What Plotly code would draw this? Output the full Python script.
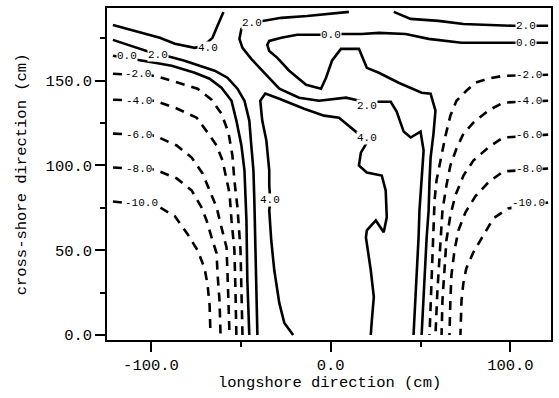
import plotly.graph_objects as go

# ---------------- contour lines (longshore x, cross-shore y, in cm) ----------------
# level 4.0, upper-left corner
c4a_x = [-121.2, -111.7, -103.4, -95.1, -86.7, -81.3, -75.7, -70.7, -65.8, -63.0, -59.7]
c4a_y = [182.9, 180.0, 177.6, 175.3, 171.8, 170.6, 169.4, 170.6, 175.3, 182.4, 190.6]
# level 4.0, central region
c4b_x = [-20.9, -25.8, -28.6, -31.4, -33.1, -34.2, -33.6, -34.2, -34.2, -35.8, -38.1, -39.2,
         -36.4, -28.6, -14.8, -3.7, 4.6, 10.1, 14.6, 20.1, 20.1, 16.8, 15.7, 20.1, 28.4, 30.6,
         31.2, 29.5, 25.1, 20.1, 19.6, 22.3, 24.0, 22.9, 22.3]
c4b_y = [0.0, 7.1, 18.8, 38.2, 55.9, 73.5, 79.4, 88.2, 97.1, 114.7, 126.5, 138.2,
         142.4, 139.4, 133.5, 129.4, 128.2, 123.5, 119.4, 116.5, 113.5, 107.6, 100.0, 95.9, 94.1, 85.3,
         69.4, 60.6, 67.6, 61.8, 57.6, 38.2, 22.4, 8.8, 0.0]
# level 2.0, left
c2a_x = [-121.2, -114.5, -103.4, -96.2, -89.6, -81.3, -73.0, -64.6, -57.5, -51.9, -48.0, -45.3,
         -44.2, -43.0, -42.5, -41.9, -41.4, -40.8]
c2a_y = [174.1, 171.8, 167.6, 165.3, 164.1, 161.8, 158.8, 155.9, 151.8, 145.3, 138.2, 126.5,
         111.8, 97.1, 79.4, 50.0, 20.6, 0.0]
# level 2.0, top-middle down to the right column
c2b_x = [10.1, -0.9, -13.1, -27.5, -38.6, -44.2, -49.7, -50.8, -49.1, -44.2, -38.1, -28.6, -17.6,
         -6.5, 8.5, 18.5, 26.8, 33.4, 36.7, 40.6, 44.5, 50.0, 51.7, 50.6, 49.4, 48.9, 47.3, 46.1]
c2b_y = [190.6, 189.4, 188.2, 187.1, 185.3, 184.1, 180.6, 174.7, 169.4, 162.9, 155.9, 145.3, 140.0,
         138.2, 140.0, 137.6, 137.6, 137.6, 131.8, 120.0, 116.5, 120.0, 108.8, 94.1, 73.5, 57.6, 26.5, 0.0]
# level 2.0, top-right
c2c_x = [35.1, 44.5, 60.0, 73.9, 101.6, 121.0]
c2c_y = [190.6, 186.5, 185.3, 183.5, 182.4, 182.4]
# level 0.0, left
c0a_x = [-121.2, -107.3, -97.9, -88.5, -75.7, -67.4, -60.8, -55.2, -52.5, -49.7, -48.0, -46.9, -46.4, -45.3]
c0a_y = [164.7, 162.4, 160.6, 158.8, 154.7, 151.2, 145.9, 138.2, 126.5, 111.8, 97.1, 67.6, 32.4, 0.0]
# level 0.0, right edge -> top -> loop -> right column
c0b_x = [121.0, 100.4, 72.8, 54.5, 41.7, 26.8, 17.3, 5.7, 0.2, -7.6, -18.7, -27.5, -34.2, -35.3,
         -34.2, -29.7, -23.1, -13.7, -5.4, -2.6, 0.7, 5.7, 15.7, 20.1, 26.8, 37.8, 50.6, 55.6,
         58.3, 57.2, 55.6, 55.0, 54.5, 53.4, 52.2, 51.1, 50.6]
c0b_y = [172.4, 172.4, 172.4, 174.7, 177.6, 178.2, 177.6, 177.6, 177.1, 177.1, 177.1, 175.3, 173.5, 171.2,
         167.6, 163.5, 155.9, 147.6, 145.3, 151.8, 161.8, 168.8, 168.8, 157.6, 154.7, 148.8, 142.9, 142.4,
         132.4, 118.8, 104.7, 91.2, 73.5, 57.6, 32.4, 14.7, 0.0]
# negative levels, left side
cm2a_x = [-121.2, -97.9, -86.7, -74.1, -66.3, -60.8, -56.9, -54.7, -53.6, -51.9, -50.2, -49.7, -49.1]
cm2a_y = [154.1, 152.9, 149.4, 145.3, 138.8, 130.6, 119.4, 105.9, 91.2, 75.3, 50.0, 26.5, 0.0]
cm4a_x = [-121.2, -97.9, -86.7, -74.6, -68.5, -63.5, -60.2, -58.0, -56.3, -55.2, -53.6, -53.0, -52.5]
cm4a_y = [138.8, 138.2, 134.1, 128.2, 119.4, 111.8, 102.9, 92.9, 83.5, 67.6, 50.0, 26.5, 0.0]
cm6a_x = [-121.2, -97.9, -85.7, -77.4, -71.3, -67.4, -63.5, -60.8, -58.0, -57.5, -56.9, -56.3]
cm6a_y = [118.8, 117.6, 111.8, 104.7, 95.3, 85.3, 75.3, 63.5, 51.8, 38.2, 20.6, 0.0]
cm8a_x = [-121.2, -97.9, -85.7, -77.4, -71.9, -69.1, -66.3, -63.5, -63.0, -61.9, -61.3]
cm8a_y = [98.8, 97.6, 92.4, 85.3, 75.3, 67.6, 57.6, 48.2, 36.5, 20.6, 0.0]
cm10a_x = [-121.2, -95.1, -86.7, -79.6, -74.1, -70.2, -68.5, -67.4, -66.9]
cm10a_y = [78.8, 75.3, 70.0, 59.4, 50.0, 39.4, 29.4, 17.6, 0.0]
# negative levels, right side
cm2b_x = [121.0, 96.0, 87.7, 80.5, 75.5, 70.0, 66.6, 63.9, 61.1, 58.9, 57.8, 56.7, 55.6, 55.0]
cm2b_y = [153.5, 152.9, 151.2, 148.8, 144.1, 138.2, 129.4, 117.6, 102.9, 91.2, 79.4, 50.0, 20.6, 0.0]
cm4b_x = [121.0, 96.0, 87.7, 79.4, 73.9, 70.0, 66.6, 64.4, 62.2, 60.6, 59.4, 58.3]
cm4b_y = [138.2, 137.1, 132.4, 125.3, 118.8, 110.0, 100.0, 88.2, 73.5, 50.0, 26.5, 0.0]
cm6b_x = [121.0, 96.0, 87.7, 79.4, 73.9, 69.4, 66.6, 64.4, 63.3, 62.2, 61.7]
cm6b_y = [118.2, 116.5, 110.6, 102.9, 94.1, 82.4, 70.6, 55.9, 38.2, 20.6, 0.0]
cm8b_x = [121.0, 96.0, 87.7, 80.5, 75.0, 71.1, 68.9, 67.2, 66.6, 66.1]
cm8b_y = [98.2, 96.5, 90.0, 81.8, 72.4, 61.8, 50.0, 35.3, 20.6, 0.0]
cm10b_x = [121.0, 98.8, 90.5, 84.9, 79.4, 75.5, 73.9, 72.8, 72.2]
cm10b_y = [78.2, 74.7, 68.8, 58.8, 48.8, 39.4, 31.2, 20.6, 0.0]

# ---------------- contour labels ----------------
label_text = ["4.0", "2.0", "0.0", "-2.0", "-4.0", "-6.0", "-8.0", "-10.0",
              "2.0", "0.0", "2.0", "4.0", "4.0",
              "2.0", "0.0", "-2.0", "-4.0", "-6.0", "-8.0", "-10.0"]
label_x = [-68.5, -96.2, -113.4, -107.3, -106.8, -106.8, -106.8, -105.1,
           -44.0, 0.2, 20.1, 20.1, -33.6,
           108.8, 108.8, 110.4, 110.4, 110.4, 110.4, 109.8]
label_y = [169.4, 165.3, 164.7, 153.8, 138.2, 118.2, 98.2, 77.6,
           184.1, 177.1, 135.0, 116.5, 79.4,
           182.4, 172.4, 153.5, 138.2, 118.2, 98.2, 77.6]

# ---------------- axes ----------------
x_tickvals = [-100, 0, 100]
x_ticktext = ["-100.0", "0.0", "100.0"]
x_minor = [-50, 50]
y_tickvals = [0, 50, 100, 150]
y_ticktext = ["0.0", "50.0", "100.0", "150.0"]
y_minor = [25, 75, 125, 175]
x_title = "longshore direction (cm)"
y_title = "cross-shore direction (cm)"

pieces = [
    (c4a_x, c4a_y, 4.0), (c4b_x, c4b_y, 4.0),
    (c2a_x, c2a_y, 2.0), (c2b_x, c2b_y, 2.0), (c2c_x, c2c_y, 2.0),
    (c0a_x, c0a_y, 0.0), (c0b_x, c0b_y, 0.0),
    (cm2a_x, cm2a_y, -2.0), (cm4a_x, cm4a_y, -4.0), (cm6a_x, cm6a_y, -6.0),
    (cm8a_x, cm8a_y, -8.0), (cm10a_x, cm10a_y, -10.0),
    (cm2b_x, cm2b_y, -2.0), (cm4b_x, cm4b_y, -4.0), (cm6b_x, cm6b_y, -6.0),
    (cm8b_x, cm8b_y, -8.0), (cm10b_x, cm10b_y, -10.0),
]

FONT = "Liberation Mono"
fig = go.Figure()
for xs, ys, lev in pieces:
    dash = "solid" if lev >= 0 else "9px,7px"
    fig.add_trace(go.Scatter(x=xs, y=ys, mode="lines",
                             line=dict(color="black", width=2.6, dash=dash),
                             hoverinfo="skip", showlegend=False))

for t, lx, ly in zip(label_text, label_x, label_y):
    fig.add_annotation(x=lx, y=ly, text=t, showarrow=False, xref="x", yref="y",
                       font=dict(family=FONT, size=11, color="black"),
                       bgcolor="white", borderpad=0)

fig.add_annotation(x=0.5, y=-0.129, xref="paper", yref="paper", text=x_title,
                   showarrow=False, yanchor="middle",
                   font=dict(family=FONT, size=15.5, color="black"))
fig.add_annotation(x=-0.1906, y=0.5, xref="paper", yref="paper", text=y_title,
                   showarrow=False, textangle=-90, xanchor="center", yanchor="middle",
                   font=dict(family=FONT, size=15.5, color="black"))

axis_common = dict(showgrid=False, zeroline=False, showline=True, linecolor="black",
                   linewidth=1.6, mirror=True, ticks="outside", ticklen=10, tickwidth=2,
                   tickcolor="black", tickfont=dict(family=FONT, size=15.5, color="black"))
fig.update_xaxes(range=[-124.5, 122.6], tickmode="array", tickvals=x_tickvals,
                 ticktext=x_ticktext,
                 minor=dict(tickvals=x_minor, ticklen=5, tickwidth=2, tickcolor="black",
                            ticks="outside"),
                 **axis_common)
fig.update_yaxes(range=[-2.94, 192.9], tickmode="array", tickvals=y_tickvals,
                 ticktext=y_ticktext,
                 minor=dict(tickvals=y_minor, ticklen=5, tickwidth=2, tickcolor="black",
                            ticks="outside"),
                 **axis_common)

fig.update_layout(width=559, height=398, margin=dict(l=107, r=6, t=7, b=58),
                  plot_bgcolor="white", paper_bgcolor="white", showlegend=False)

fig.write_html("out.html")
